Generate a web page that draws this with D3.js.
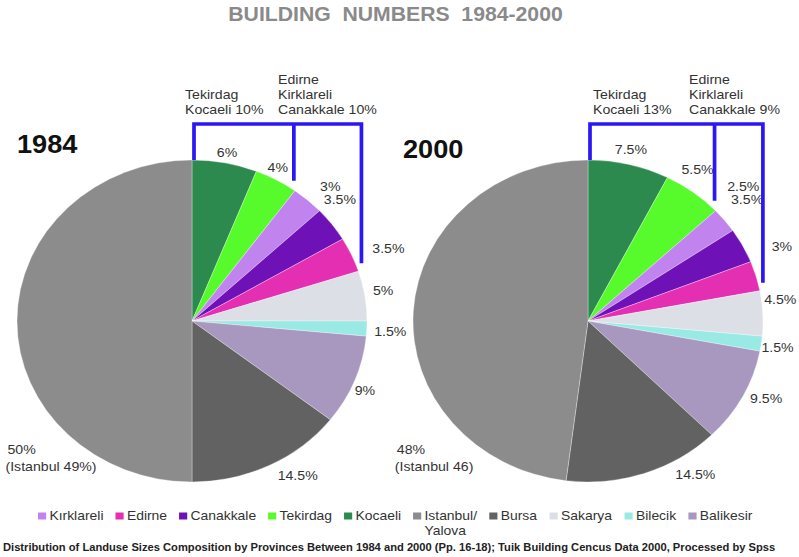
<!DOCTYPE html>
<html>
<head>
<meta charset="utf-8">
<script src="https://cdn.jsdelivr.net/npm/d3@7"></script>
<style>
body { margin: 0; background: #fff; }
text { font-family: "Liberation Sans", Arial, sans-serif; }
</style>
</head>
<body>
<div class="chart"></div>
<script>
// slice order, clockwise from 12 o'clock
const provinces = ["Kocaeli", "Tekirdag", "Kirklareli", "Canakkale", "Edirne", "Sakarya", "Bilecik", "Balikesir", "Bursa", "Istanbul"]
const share1984 = [6, 4, 3, 3.5, 3.5, 5, 1.5, 9, 14.5, 50]
const share2000 = [7.5, 5.5, 2.5, 3.5, 3, 4.5, 1.5, 9.5, 14.5, 48]
const labels1984 = ["6%", "4%", "3%", "3.5%", "3.5%", "5%", "1.5%", "9%", "14.5%", ["50%", "(Istanbul 49%)"]]
const labels2000 = ["7.5%", "5.5%", "2.5%", "3.5%", "3%", "4.5%", "1.5%", "9.5%", "14.5%", ["48%", "(Istanbul 46)"]]
const groups1984 = [["Tekirdag", "Kocaeli 10%"], ["Edirne", "Kirklareli", "Canakkale 10%"]]
const groups2000 = [["Tekirdag", "Kocaeli 13%"], ["Edirne", "Kirklareli", "Canakkale 9%"]]
const groupEnds = ["Tekirdag", "Edirne"]   // last slice in each bracket group

const legendKeys = ["Kirklareli", "Edirne", "Canakkale", "Tekirdag", "Kocaeli", "Istanbul", "Bursa", "Sakarya", "Bilecik", "Balikesir"]
const legendNames = ["Kırklareli", "Edirne", "Canakkale", "Tekirdag", "Kocaeli", ["Istanbul/", "Yalova"], "Bursa", "Sakarya", "Bilecik", "Balikesir"]
const colors = ["#2d8a4f", "#57fb2c", "#c183ee", "#6e12b8", "#e52fb3", "#dcdfe6", "#99e9e4", "#a898bf", "#626262", "#8c8c8c"]

const title = "BUILDING  NUMBERS  1984-2000"
const footer = "Distribution of Landuse Sizes Composition by Provinces Between 1984 and 2000 (Pp. 16-18); Tuik Building Cencus Data 2000, Processed by Spss"

// the original picture is stretched horizontally
const sx = 175 / 161
const svgwidth = 799, svgheight = 557
const R = 161

// label tweaks in screen pixels (crowded slices moved by hand in the original)
const nudge = {
    1984: {Kocaeli: [-1, 5], Tekirdag: [-7, 2], Kirklareli: [11, -2], Canakkale: [-6, -15], Edirne: [21, 0],
        Sakarya: [1, -3], Bilecik: [6, 2], Balikesir: [-6, 4], Bursa: [21, -5], Istanbul: [6, 133]},
    2000: {Kocaeli: [-2, 1], Tekirdag: [-6, -10], Kirklareli: [5, -24], Canakkale: [-11, -39], Edirne: [9, -25],
        Sakarya: [0, -13], Bilecik: [-1, 2], Balikesir: [8, -5], Bursa: [45, -14], Istanbul: [-1, 144]}
}

const color = d3.scaleOrdinal().domain(provinces).range(colors)

const svg = d3.select(".chart").append("svg")
    .attr("width", svgwidth)
    .attr("height", svgheight)

const g = svg.append("g").attr("transform", `scale(${sx},1)`)

g.append("text")
    .attr("x", 395.5 / sx)
    .attr("y", 21)
    .attr("text-anchor", "middle")
    .attr("font-size", 19.5)
    .attr("font-weight", "bold")
    .attr("fill", "#8a8a8a")
    .style("white-space", "pre")
    .text(title)

function drawPie(year, values, labels, groupTexts, cx, yearX, yearY, groupX) {
    const cy = 321
    const arcs = d3.pie().sort(null).value(d => d)(values)
    arcs.forEach((a, i) => a.name = provinces[i])
    const arc = d3.arc().innerRadius(0).outerRadius(R)
    const rim = (ang, k) => [cx + k * R * Math.sin(ang), cy - k * R * Math.cos(ang)]

    const pg = g.append("g")
    pg.selectAll("path")
        .data(arcs)
        .enter()
        .append("path")
        .attr("transform", `translate(${cx},${cy})`)
        .attr("d", arc)
        .attr("fill", d => color(d.name))
        .attr("stroke", "#fff")
        .attr("stroke-width", 0.3)

    // slice labels
    arcs.forEach((a, i) => {
        const mid = (a.startAngle + a.endAngle) / 2
        const p = rim(mid, 1.1)
        const n = nudge[year][a.name]
        const x = p[0] + n[0] / sx, y = p[1] + n[1]
        const lab = labels[i]
        if (Array.isArray(lab)) {
            const t = pg.append("text")
                .attr("x", x).attr("y", y)
                .attr("font-size", 13)
                .attr("fill", "#333")
            lab.forEach((s, j) => {
                t.append("tspan").attr("x", j == 0 ? x + 2 / sx : x).attr("dy", j == 0 ? 0 : 17).text(s)
            })
        } else {
            pg.append("text")
                .attr("x", x).attr("y", y)
                .attr("dy", "0.35em")
                .attr("text-anchor", "middle")
                .attr("font-size", 13)
                .attr("fill", "#333")
                .text(lab)
        }
    })

    // blue brackets
    const topY = cy - R - 36
    const ends = groupEnds.map(name => arcs.find(a => a.name == name).endAngle)
    const p1 = rim(ends[0], 1), p2 = rim(ends[1], 1)
    const leftX = cx + 2 / sx
    const midX = p1[0] - 1 / sx
    const rightX = p2[0] + 3 / sx
    const path = d3.path()
    path.moveTo(leftX, cy - R)
    path.lineTo(leftX, topY)
    path.lineTo(rightX, topY)
    path.lineTo(rightX, p2[1] - 8)
    path.moveTo(midX, topY)
    path.lineTo(midX, p1[1] - 10)
    pg.append("path")
        .attr("d", path.toString())
        .attr("fill", "none")
        .attr("stroke", "#2b17f5")
        .attr("stroke-width", 3.4)

    // group captions above brackets
    groupTexts.forEach((lines, gi) => {
        const t = pg.append("text")
            .attr("font-size", 13)
            .attr("fill", "#333")
        const x = cx + groupX[gi] / sx
        lines.forEach((s, j) => {
            t.append("tspan")
                .attr("x", x)
                .attr("y", 114 - (lines.length - 1 - j) * 15)
                .text(s)
        })
    })

    pg.append("text")
        .attr("x", yearX / sx)
        .attr("y", yearY)
        .attr("font-size", 25)
        .attr("font-weight", "bold")
        .attr("fill", "#111")
        .text(year)
}

drawPie(1984, share1984, labels1984, groups1984, 192 / sx, 17, 153, [-7, 86])
drawPie(2000, share2000, labels2000, groups2000, 588 / sx, 403, 158, [5, 101])

// legend
const legend = g.append("g")
let lx = 38 / sx
legendKeys.forEach((k, i) => {
    legend.append("rect")
        .attr("x", lx)
        .attr("y", 512.5)
        .attr("width", 7.5)
        .attr("height", 7)
        .attr("fill", color(k))
    const name = legendNames[i]
    const t = legend.append("text")
        .attr("x", lx + 10.5)
        .attr("y", 520)
        .attr("font-size", 12.8)
        .attr("fill", "#333")
    if (Array.isArray(name)) {
        name.forEach((s, j) => t.append("tspan").attr("x", lx + 10.5).attr("dy", j == 0 ? 0 : 15).text(s))
    } else {
        t.text(name)
    }
    const w = t.node().getBBox().width
    lx += 10.5 + w + 11
})

// footer squeezed to the width it has in the original
const foot = svg.append("text")
    .attr("x", 0)
    .attr("y", 0)
    .attr("font-size", 11.5)
    .attr("font-weight", "bold")
    .attr("fill", "#222")
    .text(footer)
const fw = foot.node().getComputedTextLength()
foot.attr("transform", `translate(3,551) scale(${773 / fw},1)`)
</script>
</body>
</html>
